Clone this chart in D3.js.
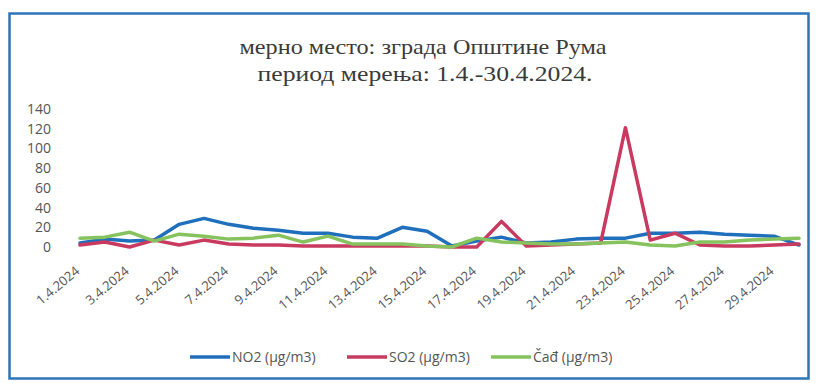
<!DOCTYPE html>
<html><head><meta charset="utf-8">
<script src="https://cdn.jsdelivr.net/npm/d3@7"></script>
<style>html,body{margin:0;padding:0;background:#fff;}svg{display:block;}</style>
</head><body>
<svg id="c" width="823" height="383"></svg>
<script>
const days = ["1.4.2024","2.4.2024","3.4.2024","4.4.2024","5.4.2024","6.4.2024","7.4.2024","8.4.2024","9.4.2024","10.4.2024",
"11.4.2024","12.4.2024","13.4.2024","14.4.2024","15.4.2024","16.4.2024","17.4.2024","18.4.2024","19.4.2024","20.4.2024",
"21.4.2024","22.4.2024","23.4.2024","24.4.2024","25.4.2024","26.4.2024","27.4.2024","28.4.2024","29.4.2024","30.4.2024"];
const no2 = [4, 8, 6, 7, 23, 29, 23, 19, 17, 14, 14, 10, 9, 20, 16, 1, 6, 10, 4, 5, 8, 9, 9, 14, 14, 15, 13, 12, 11, 2];
const so2 = [2, 5, 0, 7, 2, 7, 3, 2, 2, 1, 1, 1, 1, 1, 1, 0, 0, 26, 1, 2, 3, 4, 121, 7, 14, 2, 1, 1, 2, 3];
const cad = [9, 10, 15, 6, 13, 11, 8, 9, 12, 5, 11, 3, 3, 3, 1, 0, 9, 5, 4, 3, 3, 4, 5, 2, 1, 5, 5, 7, 8, 9];
const yTicks = [0, 20, 40, 60, 80, 100, 120, 140];
const tickLabels = days.filter((d, i) => i % 2 === 0);
const seriesNames = ["NO2 (µg/m3)", "SO2 (µg/m3)", "Čađ (µg/m3)"];
const colors = ["#1f6fbd", "#c93a60", "#86c25e"];
const titleLines = ["мерно место: зграда Општине Рума", "период мерења: 1.4.-30.4.2024."];

const svg = d3.select("#c");
svg.append("rect").attr("x", 9.5).attr("y", 13.5).attr("width", 799).attr("height", 365)
  .attr("fill", "#fff").attr("stroke", "#2e75b6").attr("stroke-width", 2.5);

svg.append("text").attr("x", 423).attr("y", 54).attr("text-anchor", "middle")
  .attr("font-family", "Liberation Serif").attr("font-size", 22).attr("fill", "#3a3a3a")
  .attr("textLength", 367).attr("lengthAdjust", "spacingAndGlyphs").text(titleLines[0]);
svg.append("text").attr("x", 425).attr("y", 81).attr("text-anchor", "middle")
  .attr("font-family", "Liberation Serif").attr("font-size", 22).attr("fill", "#3a3a3a")
  .attr("textLength", 335).attr("lengthAdjust", "spacingAndGlyphs").text(titleLines[1]);

const x = d3.scalePoint().domain(days).range([80, 799]);
const y = d3.scaleLinear().domain([0, 140]).range([247, 109]);

const yAxis = svg.append("g").attr("transform", "translate(51,0)")
  .call(d3.axisLeft(y).tickValues(yTicks).tickSize(0).tickPadding(0));
yAxis.select(".domain").remove();
yAxis.selectAll("text").attr("font-family", "Open Sans").attr("font-size", 14).attr("fill", "#555");

const xAxis = svg.append("g").attr("transform", "translate(0,262)")
  .call(d3.axisBottom(x).tickValues(tickLabels).tickSize(0).tickPadding(0));
xAxis.select(".domain").remove();
xAxis.selectAll("text").attr("font-family", "Open Sans").attr("font-size", 13).attr("fill", "#555")
  .attr("text-anchor", "end").attr("dy", "0.35em").attr("dx", 0)
  .attr("transform", "translate(-3,7) rotate(-40)");

const line = d3.line().x((d, i) => x(days[i])).y(d => y(d));
[no2, so2, cad].forEach((s, k) => {
  svg.append("path").datum(s).attr("d", line).attr("fill", "none")
    .attr("stroke", colors[k]).attr("stroke-width", 3.5).attr("stroke-linejoin", "round").attr("stroke-linecap", "round");
});

const legX = [190, 347, 491];
seriesNames.forEach((n, k) => {
  svg.append("line").attr("x1", legX[k]).attr("x2", legX[k] + 40).attr("y1", 357).attr("y2", 357)
    .attr("stroke", colors[k]).attr("stroke-width", 3.5);
  svg.append("text").attr("x", legX[k] + 42).attr("y", 357).attr("dy", "0.35em")
    .attr("font-family", "Open Sans").attr("font-size", 14).attr("fill", "#555").text(n);
});
</script>
</body></html>
